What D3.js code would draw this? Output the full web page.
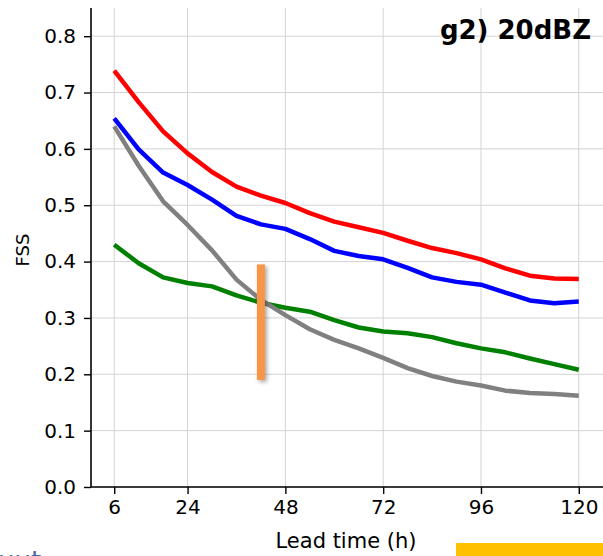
<!DOCTYPE html>
<html>
<head>
<meta charset="utf-8">
<script src="https://cdn.jsdelivr.net/npm/d3@7"></script>
<style>
  body { margin: 0; background: #fff; }
  svg { display: block; font-family: 'DejaVu Sans', sans-serif; }
</style>
</head>
<body>
<script>
'use strict'

const width = 603
const height = 556
const margin = { top: 8, right: 1, bottom: 69, left: 91 }

// lead times (h) and FSS values per experiment
const hours = [6, 12, 18, 24, 30, 36, 42, 48, 54, 60, 66, 72, 78, 84, 90, 96, 102, 108, 114, 120]
const redFss = [0.739, 0.683, 0.631, 0.592, 0.559, 0.533, 0.517, 0.504, 0.486, 0.471, 0.461, 0.451, 0.437, 0.424, 0.415, 0.404, 0.388, 0.375, 0.370, 0.369]
const blueFss = [0.654, 0.599, 0.558, 0.536, 0.510, 0.481, 0.466, 0.458, 0.440, 0.419, 0.410, 0.404, 0.389, 0.372, 0.364, 0.359, 0.345, 0.331, 0.326, 0.329]
const greenFss = [0.430, 0.397, 0.372, 0.362, 0.356, 0.340, 0.327, 0.318, 0.311, 0.296, 0.283, 0.276, 0.273, 0.266, 0.255, 0.246, 0.239, 0.228, 0.218, 0.208]
const grayFss = [0.640, 0.570, 0.507, 0.465, 0.420, 0.368, 0.332, 0.305, 0.280, 0.261, 0.246, 0.229, 0.211, 0.197, 0.187, 0.180, 0.171, 0.167, 0.165, 0.162]

const xTicks = [6, 24, 48, 72, 96, 120]
const yTicks = [0, 0.1, 0.2, 0.3, 0.4, 0.5, 0.6, 0.7, 0.8]

// orange marker drawn over the plot
const markerHour = 42
const markerRange = [0.19, 0.395]

const series = [
    { name: 'red', color: '#ff0000', values: redFss },
    { name: 'blue', color: '#0000ff', values: blueFss },
    { name: 'green', color: '#008000', values: greenFss },
    { name: 'gray', color: '#808080', values: grayFss }
]

const x = d3.scaleLinear().domain([0.3, 125.7]).range([margin.left, width - margin.right])
const y = d3.scaleLinear().domain([0, 0.85]).range([height - margin.bottom, margin.top])

const svg = d3.select('body').append('svg').attr('width', width).attr('height', height)

const defs = svg.append('defs')
const shadow = defs.append('filter').attr('id', 'shadow')
    .attr('x', '-100%').attr('y', '-20%').attr('width', '300%').attr('height', '140%')
shadow.append('feDropShadow')
    .attr('dx', 2).attr('dy', 2).attr('stdDeviation', 2)
    .attr('flood-color', '#000').attr('flood-opacity', 0.35)

// grid
svg.append('g')
    .selectAll('line.gx')
    .data(xTicks)
    .join('line')
    .attr('x1', d => x(d)).attr('x2', d => x(d))
    .attr('y1', y(0)).attr('y2', margin.top)
    .attr('stroke', '#d3d3d3').attr('stroke-width', 1)

svg.append('g')
    .selectAll('line.gy')
    .data(yTicks)
    .join('line')
    .attr('x1', margin.left).attr('x2', width)
    .attr('y1', d => y(d)).attr('y2', d => y(d))
    .attr('stroke', '#d3d3d3').attr('stroke-width', 1)

// lines
const line = d3.line()
    .x((d, i) => x(hours[i]))
    .y(d => y(d))

svg.append('g')
    .selectAll('path')
    .data(series)
    .join('path')
    .attr('d', d => line(d.values))
    .attr('fill', 'none')
    .attr('stroke', d => d.color)
    .attr('stroke-width', 4.5)
    .attr('stroke-linejoin', 'round')

// axes
const xAxis = svg.append('g')
    .attr('transform', `translate(0,${y(0)})`)
    .call(d3.axisBottom(x).tickValues(xTicks).tickSize(7).tickPadding(6))
xAxis.select('.domain').attr('stroke', '#000').attr('stroke-width', 1.6)
    .attr('d', `M${margin.left},0H${width}`)

const yAxis = svg.append('g')
    .attr('transform', `translate(${margin.left},0)`)
    .call(d3.axisLeft(y).tickValues(yTicks).tickFormat(d3.format('.1f')).tickSize(7).tickPadding(8))
yAxis.select('.domain').attr('stroke', '#000').attr('stroke-width', 1.6)
    .attr('d', `M0,${margin.top}V${y(0)}`)

svg.selectAll('.tick line').attr('stroke', '#000').attr('stroke-width', 1.4)
svg.selectAll('.tick text')
    .attr('font-family', 'DejaVu Sans')
    .attr('font-size', 20)
    .attr('fill', '#000')

// orange marker
svg.append('rect')
    .attr('x', x(markerHour) - 4)
    .attr('width', 8)
    .attr('y', y(markerRange[1]))
    .attr('height', y(markerRange[0]) - y(markerRange[1]))
    .attr('fill', '#f79646')
    .attr('filter', 'url(#shadow)')

// labels
svg.append('text')
    .attr('x', 591).attr('y', 39)
    .attr('text-anchor', 'end')
    .attr('font-size', 26).attr('font-weight', 'bold')
    .text('g2) 20dBZ')

svg.append('text')
    .attr('x', 346).attr('y', 548)
    .attr('text-anchor', 'middle')
    .attr('font-size', 21)
    .text('Lead time (h)')

svg.append('text')
    .attr('transform', 'translate(29,250) rotate(-90)')
    .attr('text-anchor', 'middle')
    .attr('font-size', 18)
    .text('FSS')

// cropped bits at the bottom edge
svg.append('text')
    .attr('x', -2).attr('y', 570)
    .attr('font-size', 26)
    .attr('fill', '#4a6aa5')
    .text('uut')

svg.append('rect')
    .attr('x', 456).attr('y', 543)
    .attr('width', width - 456).attr('height', height - 543)
    .attr('fill', '#ffc000')
</script>
</body>
</html>
